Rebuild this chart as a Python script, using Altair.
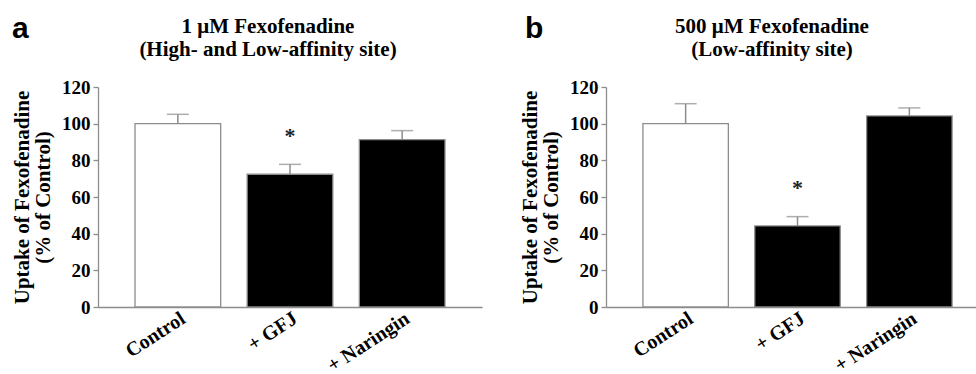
import altair as alt
import pandas as pd

categories = ["Control", "+ GFJ", "+ Naringin"]

uptake_a = [100.0, 72.4, 91.3]
sem_top_a = [105.1, 77.8, 96.2]
star_a = [None, 89.5, None]

uptake_b = [100.0, 44.2, 104.2]
sem_top_b = [110.9, 49.3, 108.6]
star_b = [None, 61.3, None]

title_a = ["1 \u03bcM Fexofenadine", "(High- and Low-affinity site)"]
title_b = ["500 \u03bcM Fexofenadine", "(Low-affinity site)"]
letters = ["a", "b"]
y_title = ["Uptake of Fexofenadine", "(% of Control)"]
y_ticks = [0, 20, 40, 60, 80, 100, 120]

SERIF = "Liberation Serif"
SANS = "Liberation Sans"
GREY = "#8c8c8c"
W = 878          # plot area (both panels share one pixel space)
H = 220
B0 = 508         # left edge of panel b inside the plot area


def panel(vals, tops, stars, title_lines, letter, x0, x1, title_x, letter_x):
    df = pd.DataFrame({"cat": categories, "val": vals, "top": tops, "star": stars})
    xscale = alt.Scale(domain=categories, range=[x0, x1],
                       paddingInner=0.236, paddingOuter=0.33)
    xaxis = alt.Axis(title=None, ticks=False, orient="bottom",
                     domainColor=GREY, domainWidth=1.3,
                     labelAngle=-33, labelFont=SERIF, labelFontWeight="bold",
                     labelFontSize=20, labelColor="black", labelPadding=1,
                     labelOffset=0, labelOverlap=False, labelLimit=0)
    x = alt.X("cat:N", sort=categories, scale=xscale, axis=xaxis)
    yaxis = alt.Axis(title=y_title, values=y_ticks, grid=False, orient="left",
                     offset=-x0,
                     domainColor=GREY, domainWidth=1.3, tickColor=GREY,
                     tickWidth=1.3, tickSize=5, labelFont=SERIF,
                     labelFontWeight="bold", labelFontSize=19,
                     labelColor="black", labelPadding=3,
                     titleFont=SERIF, titleFontWeight="bold", titleFontSize=21,
                     titleColor="black", titleLineHeight=21, titleAngle=-90,
                     titleX=-76, titleY=H / 2, titleAlign="center",
                     titleBaseline="middle")
    yscale = alt.Scale(domain=[0, 120], nice=False)
    base = alt.Chart(df)
    bars = base.mark_bar(strokeWidth=1.3, stroke=GREY).encode(
        x=x,
        y=alt.Y("val:Q", scale=yscale, axis=yaxis),
        fill=alt.Fill("cat:N", scale=alt.Scale(domain=categories,
                                               range=["white", "black", "black"]),
                      legend=None),
    )
    err = base.mark_rule(color=GREY, strokeWidth=1.5).encode(
        x=x, y=alt.Y("val:Q", scale=yscale, axis=yaxis), y2="top:Q")
    cap = base.mark_tick(color=GREY, thickness=1.5, size=22).encode(
        x=x, y=alt.Y("top:Q", scale=yscale, axis=yaxis))
    star = base.transform_filter("isValid(datum.star)").mark_text(
        text="*", font=SERIF, fontWeight="bold", fontSize=22,
        baseline="alphabetic", color="#222").encode(
        x=x, y=alt.Y("star:Q", scale=yscale, axis=yaxis))
    one = alt.Chart(pd.DataFrame({"t": [letter]}))
    let = one.mark_text(font=SANS, fontWeight="bold", fontSize=30,
                        align="left", baseline="alphabetic", color="black").encode(
        x=alt.value(letter_x), y=alt.value(-49), text="t:N")
    ttl = one.mark_text(font=SERIF, fontWeight="bold", fontSize=21,
                        align="center", baseline="alphabetic", lineHeight=22.5,
                        color="black").encode(
        x=alt.value(title_x), y=alt.value(-54), text=alt.value(title_lines))
    return alt.layer(bars, err, cap, star, let, ttl)


pa = panel(uptake_a, sem_top_a, star_a, title_a, letters[0],
           0, 384, title_x=170, letter_x=-86)
pb = panel(uptake_b, sem_top_b, star_b, title_b, letters[1],
           B0, B0 + 383, title_x=B0 + 166, letter_x=B0 - 81)

chart = alt.layer(pa, pb).resolve_scale(
    x="independent", y="independent"
).resolve_axis(
    x="independent", y="independent"
).properties(
    width=W, height=H,
    autosize=alt.AutoSizeParams(type="none"),
    padding={"left": 98, "top": 87, "right": 0, "bottom": 67},
).configure_view(stroke=None)

chart.save("out.html", embed_options={"renderer": "svg", "actions": False})
